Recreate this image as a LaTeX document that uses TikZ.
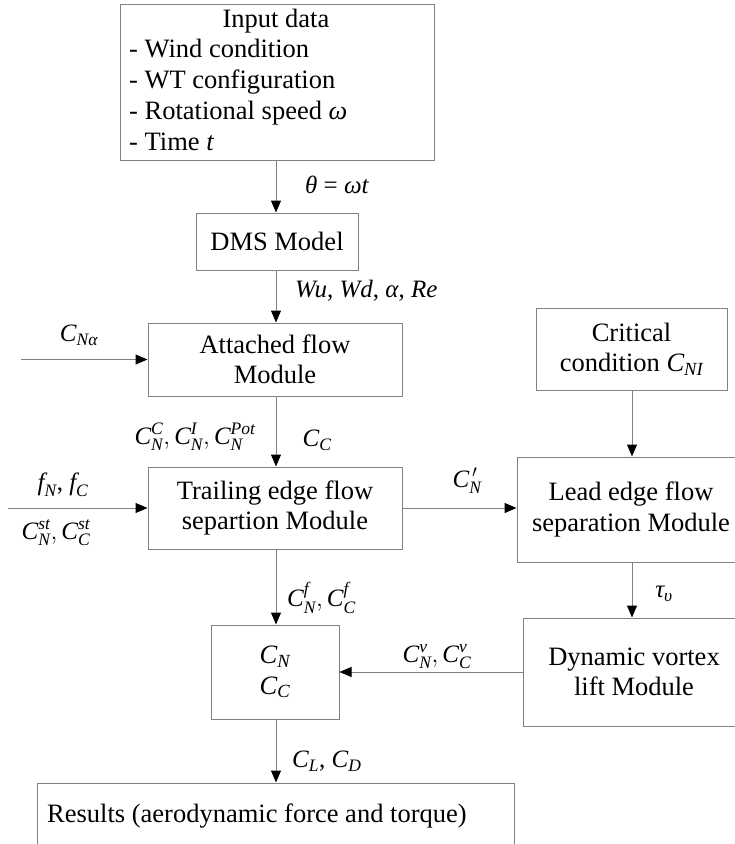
\documentclass[tikz,border=0pt]{standalone}
\usepackage{amsmath}
\usepackage{fontspec}
\setmainfont{Liberation Serif}
\usetikzlibrary{arrows.meta}
\newcommand{\mi}[1]{\textit{#1}}
\definecolor{edge}{gray}{0.5}
\tikzset{
  box/.style={draw=edge, line width=1pt, inner sep=0pt, align=center,
    font=\fontsize{26.5}{30.5}\selectfont},
  txt/.style={inner sep=0pt, font=\fontsize{26.5}{30.5}\selectfont},
  lbl/.style={inner sep=0pt, font=\fontsize{25}{28}\selectfont},
  flow/.style={draw=edge, line width=1pt,
    -{Triangle[length=12pt,width=10pt,color=black,fill=black]}},
}
\begin{document}
\begin{tikzpicture}[x=1pt,y=-1pt]
\useasboundingbox (0,0) rectangle (735,844);
\fill[white] (0,0) rectangle (735,844);

% arrow columns
\coordinate (colmid) at (276,0);
\coordinate (colright) at (632,0);

% input data box
\node[box, minimum width=314pt, minimum height=156pt] (input) at (277,82) {};
\node[txt, anchor=base] (inputtitle) at (276,27) {Input data};
\node[txt, anchor=base west] (in1) at (129,57.75) {- Wind condition};
\node[txt, anchor=base west] (in2) at (129,88.5) {- WT configuration};
\node[txt, anchor=base west] (in3) at (129,119.25) {- Rotational speed \mi{ω}};
\node[txt, anchor=base west] (in4) at (129,150) {- Time \mi{t}};

% central column
\node[box, minimum width=162pt, minimum height=57pt] (dms) at (277,241.5) {DMS Model};
\node[box, minimum width=254pt, minimum height=73pt] (attached) at (275,359.5) {Attached flow\\Module};
\node[box, minimum width=254pt, minimum height=82pt] (trailing) at (275,508) {Trailing edge flow\\separtion Module};
\node[box, minimum width=128pt, minimum height=94pt] (cn) at (275,672) {$\mi{C}_{\mi{N}}$\\$\mi{C}_{\mi{C}}$};
\node[box, minimum width=477pt, minimum height=80pt] (results) at (275.5,823) {};
\node[txt, anchor=base west] (resultstext) at (47,822) {Results (aerodynamic force and torque)};

% right column
\node[box, minimum width=191pt, minimum height=82pt] (critical) at (631.5,349) {Critical\\condition $\mi{C}_{\mi{NI}}$};
\node[box, minimum width=228pt, minimum height=105pt] (lead) at (631,509.5) {Lead edge flow\\separation Module};
\node[box, minimum width=222pt, minimum height=108pt] (dynamic) at (634,672) {Dynamic vortex\\lift Module};

% free ends of the inputs on the left
\coordinate (cnain) at (21,359.5);
\coordinate (fnin) at (8,508);

% connectors
\draw[flow] (input.south -| colmid) -- (dms.north -| colmid);
\draw[flow] (dms.south -| colmid) -- (attached.north -| colmid);
\draw[flow] (attached.south -| colmid) -- (trailing.north -| colmid);
\draw[flow] (trailing.south -| colmid) -- (cn.north -| colmid);
\draw[flow] (cn.south -| colmid) -- (results.north -| colmid);
\draw[flow] (cnain) -- (attached.west);
\draw[flow] (fnin) -- (trailing.west);
\draw[flow] (trailing.east) -- (lead.west |- trailing.east);
\draw[flow] (critical.south -| colright) -- (lead.north -| colright);
\draw[flow] (lead.south -| colright) -- (dynamic.north -| colright);
\draw[flow] (dynamic.west) -- (cn.east);

% connector labels
\node[lbl, anchor=west] (ltheta) at (305,185) {\mi{θ} = \mi{ωt}};
\node[lbl, anchor=west] (ldms) at (295,291) {\mi{Wu}, \mi{Wd}, \mi{α}, \mi{Re}};
\node[lbl] (lcna) at (79,335) {$\mi{C}_{\mi{Nα}}$};
\node[lbl] (lcn3) at (195,437) {$\mi{C}_{\mi{N}}^{\mi{C}},\mi{C}_{\mi{N}}^{\mi{I}},\mi{C}_{\mi{N}}^{\mi{Pot}}$};
\node[lbl] (lcc) at (317,440) {$\mi{C}_{\mi{C}}$};
\node[lbl] (lfn) at (63,485) {$\mi{f}_{\mi{N}}$, $\mi{f}_{\mi{C}}$};
\node[lbl] (lst) at (56,533) {$\mi{C}_{\mi{N}}^{\mi{st}},\mi{C}_{\mi{C}}^{\mi{st}}$};
\node[lbl] (lprime) at (467,481) {$\mi{C}_{\mi{N}}^{\,\prime}$};
\node[lbl, anchor=west] (lf) at (287,598) {$\mi{C}_{\mi{N}}^{\mi{f}},\mi{C}_{\mi{C}}^{\mi{f}}$};
\node[lbl] (ltau) at (664,594) {$\mi{τ}_{\mi{υ}}$};
\node[lbl] (lv) at (437,657) {$\mi{C}_{\mi{N}}^{\mi{v}},\mi{C}_{\mi{C}}^{\mi{v}}$};
\node[lbl, anchor=west] (lld) at (292,761) {$\mi{C}_{\mi{L}}$, $\mi{C}_{\mi{D}}$};
\end{tikzpicture}
\end{document}
